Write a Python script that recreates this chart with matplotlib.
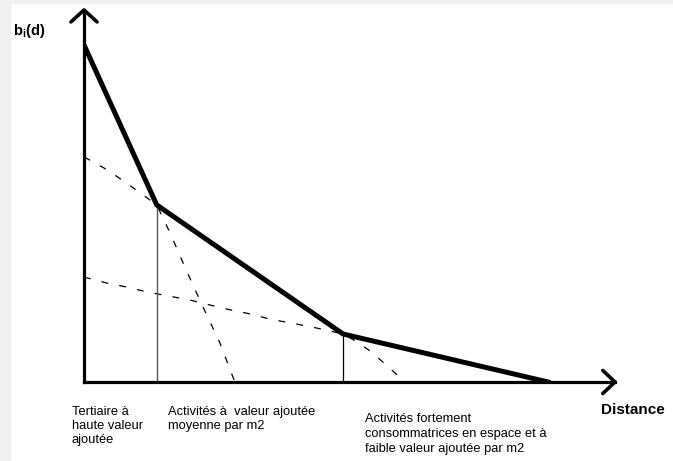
import matplotlib
matplotlib.use("Agg")
import matplotlib.pyplot as plt
from matplotlib.patches import Rectangle

plt.rcParams['font.family'] = ['Liberation Sans', 'DejaVu Sans']
plt.rcParams['mathtext.fontset'] = 'custom'
plt.rcParams['mathtext.bf'] = 'Liberation Sans:bold'
plt.rcParams['mathtext.rm'] = 'Liberation Sans'

# enveloppe (courbe d'enchère retenue)
env_x = [0, 13.7, 48.8, 87.4]
env_y = [90.6, 47.6, 12.9, 0]

# courbe d'enchère : activités à valeur ajoutée moyenne
c1_x = [0, 3.8, 7.5, 11.1, 13.7, 16.2, 19.4, 22.4, 25.6, 28.4]
c1_y = [60.5, 57.5, 54.0, 50.3, 47.6, 40.1, 29.6, 20.2, 10.5, 0]

# courbe d'enchère : activités consommatrices d'espace
c2_x = [0, 4.3, 8.1, 11.9, 16.0, 20.0, 23.7, 27.5, 31.3, 35.0, 38.8, 42.9,
        48.8, 51.4, 54.4, 56.7, 60.5]
c2_y = [28.2, 26.6, 25.5, 24.2, 23.1, 22.0, 20.7, 19.4, 18.3, 16.9, 15.9,
        14.8, 12.9, 10.8, 7.8, 4.8, 0]

# limites entre zones
limits_x = [13.7, 48.8]
limits_y = [47.6, 12.9]

labels = ["Tertiaire à\nhaute valeur\najoutée",
          "Activités à  valeur ajoutée\nmoyenne par m2",
          "Activités fortement\nconsommatrices en espace et à\nfaible valeur ajoutée par m2"]

W, H = 673, 461
fig = plt.figure(figsize=(W / 100, H / 100), dpi=100)
fig.patch.set_facecolor('white')
fig.patches.append(Rectangle((0, 0), 10 / W, 1, transform=fig.transFigure,
                             color='#f0f0f0', zorder=-1))
fig.patches.append(Rectangle((0, 1 - 3 / H), 1, 3 / H, transform=fig.transFigure,
                             color='#f0f0f0', zorder=-1))

ax = fig.add_axes([84 / W, (H - 382) / H, 531 / W, 372 / H])
ax.set_xlim(0, 100)
ax.set_ylim(0, 100)
ax.axis('off')

dash = (0, (5.5, 9.0))
ax.plot(c1_x, c1_y, color='black', lw=0.9, linestyle=dash)
ax.plot(c2_x, c2_y, color='black', lw=0.9, linestyle=dash)

ax.vlines(limits_x[0], 0, limits_y[0], color='#555555', lw=1.0)
ax.vlines(limits_x[1], 0, limits_y[1], color='black', lw=0.9)

ax.plot(env_x, env_y, color='black', lw=3.6, solid_joinstyle='miter', zorder=3)

# axes avec flèches
ax.plot([0, 0], [0, 100], color='black', lw=2.3, clip_on=False, zorder=4)
ax.plot([0, 100], [0, 0], color='black', lw=2.3, clip_on=False, zorder=4)
ax.plot([-2.45, 0, 2.45], [96.8, 100, 96.8], color='black', lw=2.6,
        clip_on=False, solid_capstyle='round', zorder=4)
ax.plot([97.7, 100, 97.7], [3.1, 0, -3.1], color='black', lw=2.6,
        clip_on=False, solid_capstyle='round', zorder=4)

fig.text(13 / W, 1 - 31 / H, r'$\mathbf{b_i(d)}$', fontsize=10.5, va='center')
fig.text(601 / W, 1 - 410 / H, 'Distance', fontsize=11, fontweight='bold',
         va='center')

pos = [(72, 406, 1.22), (168, 406, 1.22), (365, 413, 1.36)]
for (px, py, ls), lab in zip(pos, labels):
    fig.text(px / W, 1 - py / H, lab, fontsize=9.3, va='top', ha='left',
             linespacing=ls)

fig.savefig('out.png', dpi=100)
